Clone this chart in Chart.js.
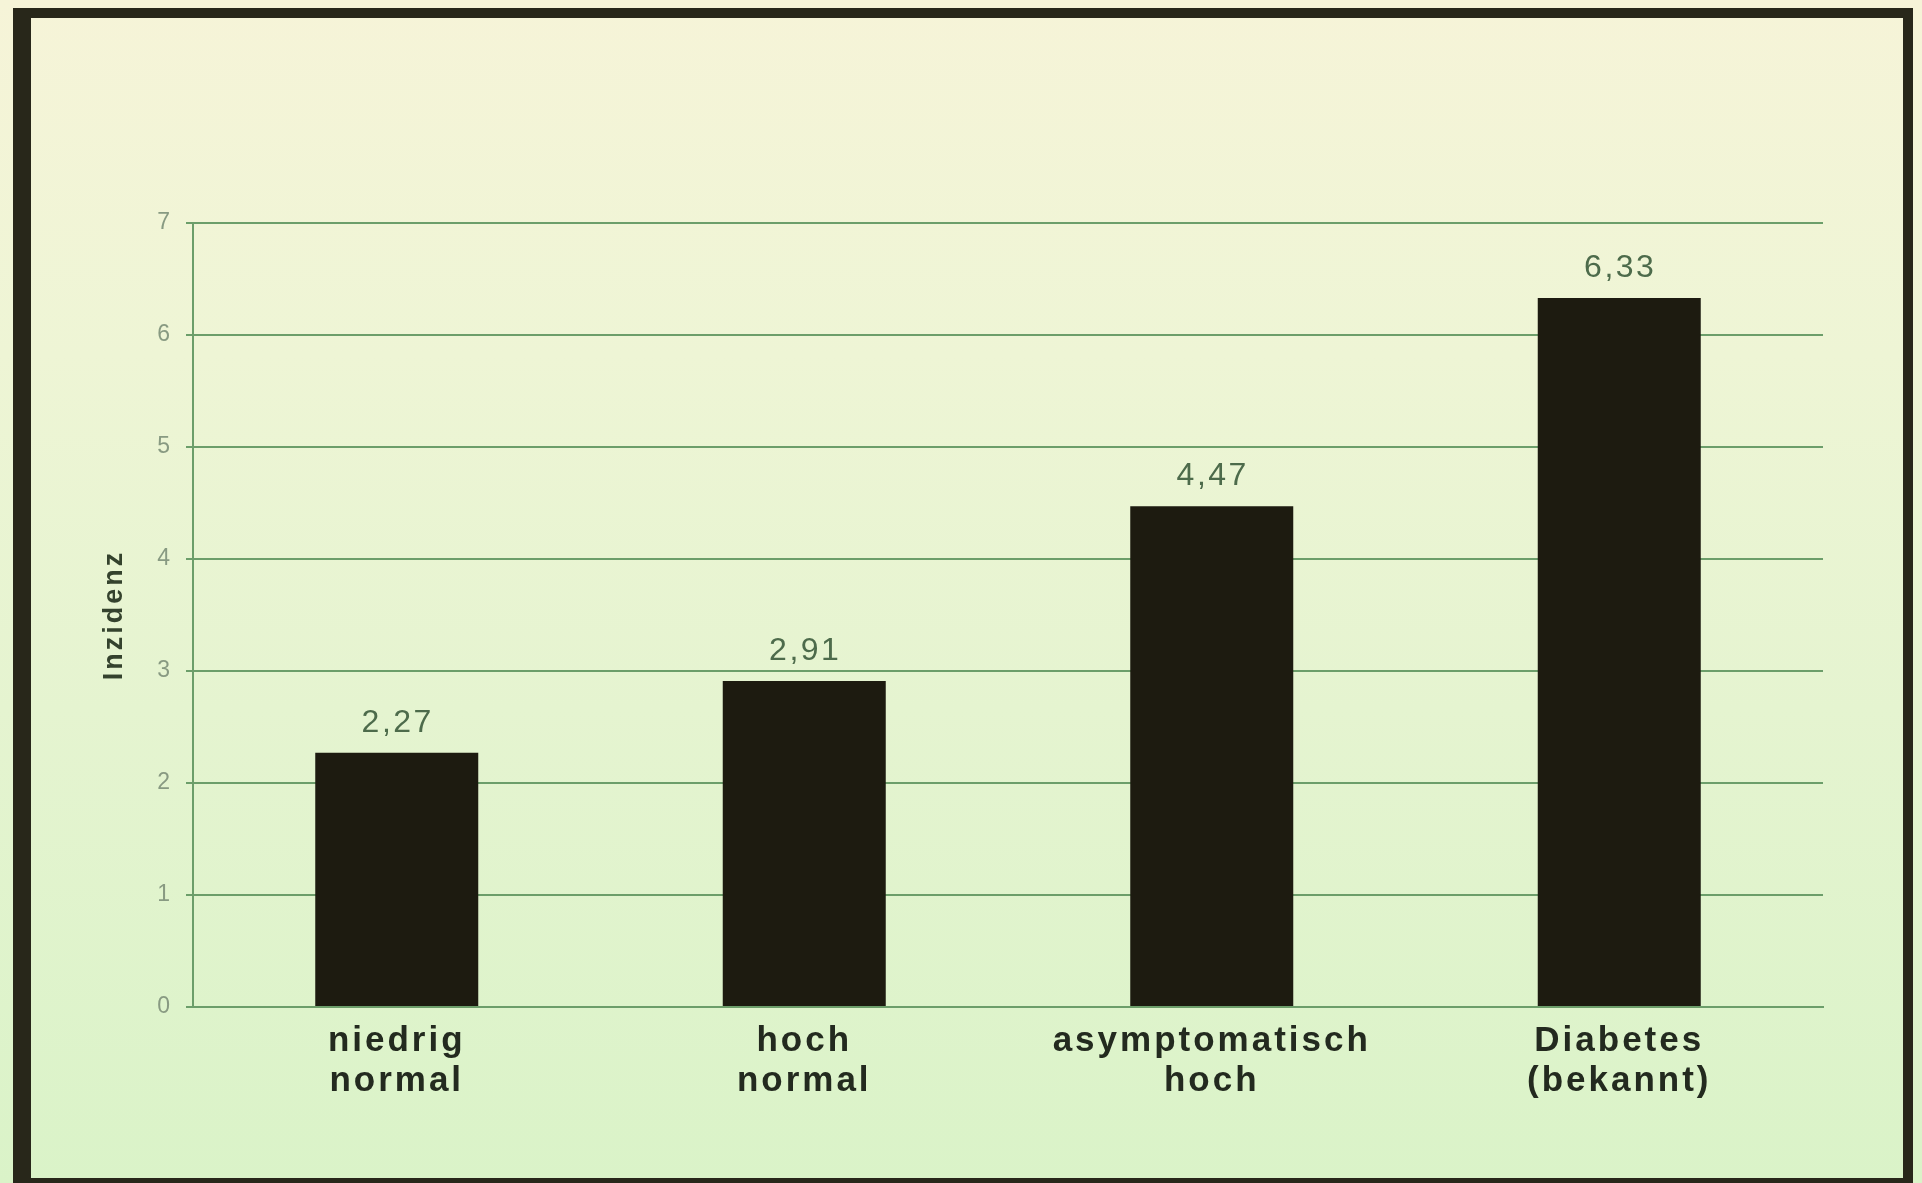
<!DOCTYPE html>
<html>
<head>
<meta charset="utf-8">
<script src="https://cdn.jsdelivr.net/npm/chart.js@4"></script>
<style>
  html, body { margin: 0; padding: 0; width: 1922px; height: 1183px; overflow: hidden; }
  body {
    position: relative;
    background: linear-gradient(180deg, #f6f4d8 0%, #eef5d5 30%, #e5f4d0 60%, #daf3c8 100%);
  }
  #frame {
    position: absolute; left: 13px; top: 8px; width: 1900px; height: 1180px;
    box-sizing: border-box; border-style: solid; border-color: #28271a;
    border-width: 10px 10px 10px 18px;
  }
  #wrap { position: absolute; left: 0; top: 0; width: 1922px; height: 1183px; }
</style>
</head>
<body>
<div id="frame"></div>
<div id="wrap"><canvas id="chart"></canvas></div>
<script>
// Categories (two-line labels), incidence values and y-axis ticks
const categories = [
  ['niedrig', 'normal'],
  ['hoch', 'normal'],
  ['asymptomatisch', 'hoch'],
  ['Diabetes', '(bekannt)']
];
const incidence = [2.27, 2.91, 4.47, 6.33];
const yTicks = [0, 1, 2, 3, 4, 5, 6, 7];

const FONT = '"Liberation Sans", Arial, Helvetica, sans-serif';
const GRID = '#6c9e6a';

// Slide text is slightly letter-spaced
const letterSpacing = {
  id: 'letterSpacing',
  beforeDraw(chart) { chart.ctx.letterSpacing = '3px'; }
};

// Value printed above each bar, German decimal comma
const valueLabels = {
  id: 'valueLabels',
  afterDatasetsDraw(chart) {
    const ctx = chart.ctx;
    const meta = chart.getDatasetMeta(0);
    const data = chart.data.datasets[0].data;
    ctx.save();
    ctx.font = '32px ' + FONT;
    ctx.fillStyle = '#4d6b4b';
    ctx.textAlign = 'center';
    ctx.textBaseline = 'alphabetic';
    ctx.letterSpacing = '2.5px';
    meta.data.forEach((bar, i) => {
      ctx.fillText(data[i].toFixed(2).replace('.', ','), bar.x + 1, bar.y - 21);
    });
    ctx.restore();
  }
};

new Chart(document.getElementById('chart'), {
  type: 'bar',
  data: {
    labels: categories,
    datasets: [{
      data: incidence,
      backgroundColor: '#1d1b10',
      borderWidth: 0,
      barPercentage: 0.4,
      categoryPercentage: 1.0
    }]
  },
  options: {
    responsive: true,
    maintainAspectRatio: false,
    animation: false,
    layout: { padding: { top: 223, right: 99, bottom: 0, left: 0 } },
    plugins: { legend: { display: false }, tooltip: { enabled: false } },
    scales: {
      x: {
        grid: { display: false, drawTicks: false },
        border: { display: true, color: GRID, width: 2 },
        ticks: {
          color: '#232a1f',
          padding: 14,
          maxRotation: 0,
          autoSkip: false,
          font: { family: FONT, size: 35, weight: 'bold', lineHeight: 1.15 }
        },
        afterFit(scale) { scale.height = 176; }
      },
      y: {
        min: 0,
        max: 7,
        afterBuildTicks(scale) { scale.ticks = yTicks.map(v => ({ value: v })); },
        grid: { color: GRID, lineWidth: 2, tickLength: 7, drawTicks: true },
        border: { display: true, color: GRID, width: 2 },
        ticks: {
          color: '#889a82',
          padding: 13,
          font: { family: FONT, size: 23 }
        },
        title: {
          display: true,
          text: 'Inzidenz',
          color: '#34422d',
          padding: { top: 98, bottom: 0 },
          font: { family: FONT, size: 27, weight: 'bold' }
        },
        afterFit(scale) { scale.width = 193; }
      }
    }
  },
  plugins: [letterSpacing, valueLabels]
});
</script>
</body>
</html>
